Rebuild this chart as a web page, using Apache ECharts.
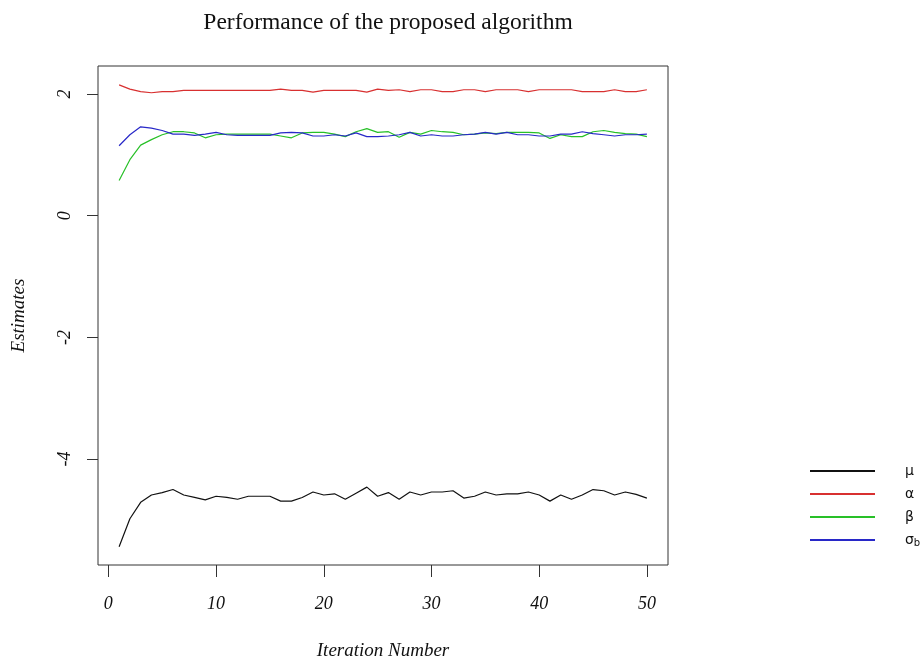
<!DOCTYPE html>
<html>
<head>
<meta charset="utf-8">
<script src="https://cdn.jsdelivr.net/npm/echarts@6/dist/echarts.min.js"></script>
<style>html,body{margin:0;padding:0;background:#fff}#c{width:922px;height:660px}</style>
</head>
<body>
<div id="c"></div>
<script>
const iterations = [1,2,3,4,5,6,7,8,9,10,11,12,13,14,15,16,17,18,19,20,21,22,23,24,25,26,27,28,29,30,31,32,33,34,35,36,37,38,39,40,41,42,43,44,45,46,47,48,49,50];
const mu = [-5.44,-4.98,-4.71,-4.59,-4.55,-4.50,-4.59,-4.63,-4.67,-4.61,-4.63,-4.66,-4.61,-4.61,-4.61,-4.69,-4.69,-4.63,-4.54,-4.59,-4.57,-4.66,-4.56,-4.46,-4.61,-4.55,-4.66,-4.54,-4.59,-4.54,-4.54,-4.52,-4.64,-4.61,-4.54,-4.59,-4.57,-4.57,-4.54,-4.59,-4.69,-4.59,-4.66,-4.59,-4.50,-4.52,-4.59,-4.54,-4.58,-4.64];
const alpha = [2.15,2.08,2.04,2.02,2.04,2.04,2.06,2.06,2.06,2.06,2.06,2.06,2.06,2.06,2.06,2.08,2.06,2.06,2.03,2.06,2.06,2.06,2.06,2.03,2.08,2.06,2.07,2.04,2.07,2.07,2.04,2.04,2.07,2.07,2.04,2.07,2.07,2.07,2.04,2.07,2.07,2.07,2.07,2.04,2.04,2.04,2.07,2.04,2.04,2.07];
const beta = [0.58,0.92,1.16,1.25,1.33,1.38,1.38,1.36,1.28,1.33,1.34,1.34,1.34,1.34,1.34,1.31,1.28,1.36,1.37,1.37,1.34,1.30,1.38,1.43,1.37,1.38,1.29,1.37,1.34,1.40,1.38,1.37,1.33,1.34,1.36,1.35,1.37,1.37,1.37,1.36,1.27,1.33,1.30,1.30,1.38,1.40,1.37,1.35,1.34,1.30];
const sigmaB = [1.15,1.33,1.46,1.44,1.40,1.34,1.34,1.32,1.34,1.37,1.33,1.32,1.32,1.32,1.32,1.36,1.37,1.36,1.31,1.31,1.33,1.31,1.36,1.30,1.30,1.31,1.33,1.37,1.31,1.33,1.31,1.31,1.33,1.34,1.37,1.34,1.37,1.33,1.33,1.31,1.31,1.34,1.34,1.38,1.35,1.33,1.31,1.33,1.33,1.34];
const xTicks = [0,10,20,30,40,50];
const yTicks = [-4,-2,0,2];
const seriesNames = ['μ','α','β','σb'];
const seriesColors = ['#111111','#d83030','#28c028','#2828c8'];
const seriesValues = [mu, alpha, beta, sigmaB];

const serif = '"Liberation Serif","DejaVu Serif",serif';
const chart = echarts.init(document.getElementById('c'), null, {renderer:'canvas'});
chart.setOption({
  animation:false,
  backgroundColor:'#fff',
  title:{
    text:'Performance of the proposed algorithm',
    left:383, textAlign:'center', top:6,
    textStyle:{fontFamily:serif, fontSize:23.5, fontWeight:'normal', color:'#111'}
  },
  legend:{
    orient:'vertical', left:810, top:463, padding:0,
    itemWidth:65, itemHeight:2, itemGap:7, icon:'rect',
    data:seriesNames,
    formatter:function(n){ return n==='σb' ? '{s|σ}{b|b}' : '{s|'+n+'}'; },
    textStyle:{
      fontFamily:'"DejaVu Sans",sans-serif', color:'#111', fontSize:14, lineHeight:16,
      padding:[0,0,0,25],
      rich:{
        s:{fontFamily:'"DejaVu Sans",sans-serif', fontSize:14, lineHeight:16, color:'#111'},
        b:{fontFamily:'"DejaVu Sans",sans-serif', fontSize:10, lineHeight:16, color:'#111', verticalAlign:'bottom', padding:[6,0,0,0]}
      }
    }
  },
  grid:{left:98, right:254, top:66, bottom:95, containLabel:false, outerBoundsMode:'none',
        show:true, borderColor:'#333', borderWidth:1, backgroundColor:'transparent'},
  xAxis:{
    type:'value', min:-0.96, max:51.96,
    name:'Iteration Number', nameLocation:'middle', nameGap:76,
    nameTextStyle:{fontFamily:serif, fontStyle:'italic', fontSize:19, color:'#111'},
    axisLine:{show:false, onZero:false},
    splitLine:{show:false},
    axisTick:{show:true, length:12, customValues:xTicks, lineStyle:{color:'#333'}},
    axisLabel:{customValues:xTicks, margin:30, fontFamily:serif, fontStyle:'italic', fontSize:18, color:'#111'}
  },
  yAxis:{
    type:'value', min:-5.74, max:2.46,
    name:'Estimates', nameLocation:'middle', nameGap:70,
    nameTextStyle:{fontFamily:serif, fontStyle:'italic', fontSize:19, color:'#111'},
    axisLine:{show:false, onZero:false},
    splitLine:{show:false},
    axisTick:{show:true, length:11, customValues:yTicks, lineStyle:{color:'#333'}},
    axisLabel:{customValues:yTicks, rotate:90, margin:24, fontFamily:serif, fontStyle:'italic', fontSize:18, color:'#111'}
  },
  series: seriesNames.map(function(n,k){
    return {
      name:n, type:'line', showSymbol:false, symbol:'none',
      data: iterations.map(function(x,i){ return [x, seriesValues[k][i]]; }),
      lineStyle:{width:1.2, color:seriesColors[k]},
      itemStyle:{color:seriesColors[k]}
    };
  })
});
</script>
</body>
</html>
